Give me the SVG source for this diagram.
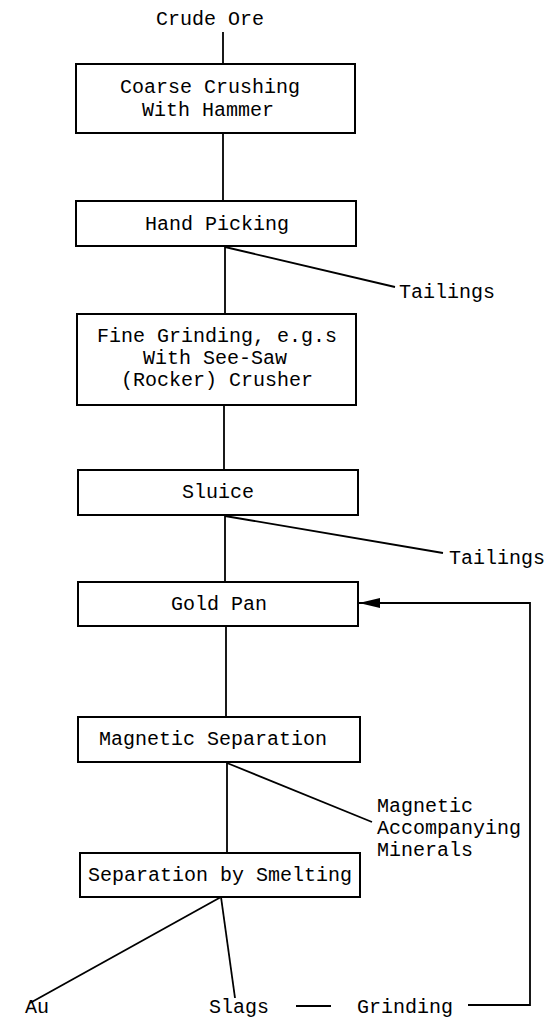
<svg xmlns="http://www.w3.org/2000/svg" width="559" height="1024" viewBox="0 0 559 1024">
<defs>
<style>
text{font-family:"Liberation Mono","DejaVu Sans Mono",monospace;font-size:20px;fill:#000}
.c{text-anchor:middle}
.box{fill:#fff;stroke:#000;stroke-width:2}
.ln{stroke:#000;stroke-width:1.8;fill:none}
</style>
<marker id="ah" markerWidth="22" markerHeight="12" refX="21" refY="6" orient="auto" markerUnits="userSpaceOnUse">
<path d="M0,1 L21,6 L0,11 Z" fill="#000"/>
</marker>
</defs>
<rect width="559" height="1024" fill="#fff"/>
<g id="connectors">
<line class="ln" x1="223" y1="32" x2="223" y2="64"/>
<line class="ln" x1="223" y1="133" x2="223" y2="201"/>
<line class="ln" x1="225" y1="246" x2="225" y2="314"/>
<line class="ln" x1="225" y1="247" x2="395" y2="287"/>
<line class="ln" x1="224" y1="405" x2="224" y2="470"/>
<line class="ln" x1="225" y1="515" x2="225" y2="582"/>
<line class="ln" x1="225" y1="516" x2="443" y2="553"/>
<line class="ln" x1="226" y1="626" x2="226" y2="717"/>
<line class="ln" x1="227" y1="762" x2="227" y2="853"/>
<line class="ln" x1="227" y1="763" x2="372" y2="822"/>
<line class="ln" x1="221" y1="897" x2="30" y2="1003"/>
<line class="ln" x1="221" y1="897" x2="235" y2="998"/>
<line class="ln" x1="296" y1="1006" x2="331" y2="1006"/>
<polyline class="ln" points="468,1005 530,1005 530,603 359,603" marker-end="url(#ah)"/>
</g>
<g id="crude-ore"><text class="c" x="210" y="25">Crude Ore</text></g>
<g id="coarse-crushing">
<rect class="box" x="76" y="64" width="279" height="69"/>
<text class="c" x="210" y="93">Coarse Crushing</text>
<text class="c" x="208" y="116">With Hammer</text>
</g>
<g id="hand-picking">
<rect class="box" x="76" y="201" width="280" height="45"/>
<text class="c" x="217" y="230">Hand Picking</text>
</g>
<g id="tailings-1"><text x="399" y="298">Tailings</text></g>
<g id="fine-grinding">
<rect class="box" x="77" y="314" width="279" height="91"/>
<text class="c" x="217" y="342">Fine Grinding, e.g.s</text>
<text class="c" x="215" y="364">With See-Saw</text>
<text class="c" x="217" y="386">(Rocker) Crusher</text>
</g>
<g id="sluice">
<rect class="box" x="78" y="470" width="280" height="45"/>
<text class="c" x="218" y="498">Sluice</text>
</g>
<g id="tailings-2"><text x="449" y="564">Tailings</text></g>
<g id="gold-pan">
<rect class="box" x="78" y="582" width="280" height="44"/>
<text class="c" x="219" y="610">Gold Pan</text>
</g>
<g id="magnetic-separation">
<rect class="box" x="78" y="717" width="282" height="45"/>
<text class="c" x="213" y="745">Magnetic Separation</text>
</g>
<g id="magnetic-minerals">
<text x="377" y="812">Magnetic</text>
<text x="377" y="834">Accompanying</text>
<text x="377" y="856">Minerals</text>
</g>
<g id="smelting">
<rect class="box" x="80" y="853" width="280" height="44"/>
<text class="c" x="220" y="881">Separation by Smelting</text>
</g>
<g id="au"><text x="25" y="1013">Au</text></g>
<g id="slags"><text x="209" y="1013">Slags</text></g>
<g id="grinding"><text x="357" y="1013">Grinding</text></g>
</svg>
